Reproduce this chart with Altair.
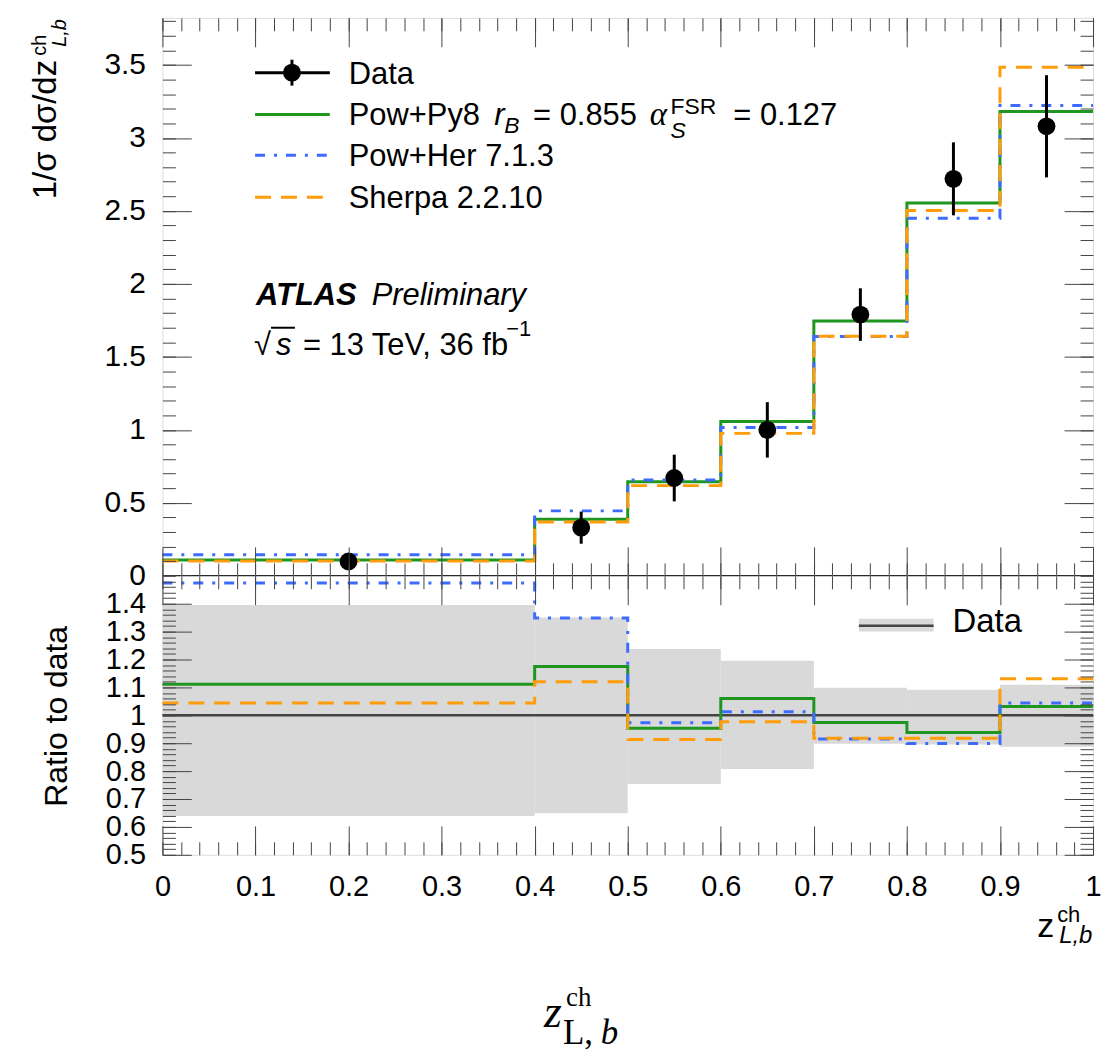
import altair as alt
import pandas as pd

# ---------------- values ----------------
edges = [0.0, 0.4, 0.5, 0.6, 0.7, 0.8, 0.9, 1.0]
data_vals = [0.098, 0.33, 0.67, 1.00, 1.79, 2.72, 3.08]
data_err = [0.037, 0.11, 0.16, 0.19, 0.18, 0.25, 0.35]
powpy8 = [0.109, 0.387, 0.644, 1.058, 1.746, 2.555, 3.181]
powher = [0.144, 0.445, 0.657, 1.016, 1.639, 2.450, 3.222]
sherpa = [0.102, 0.369, 0.618, 0.976, 1.641, 2.503, 3.484]
band_lo = [0.639, 0.649, 0.754, 0.808, 0.898, 0.895, 0.887]
band_hi = [1.395, 1.351, 1.238, 1.196, 1.099, 1.092, 1.110]
ratio_powpy8 = [1.111, 1.175, 0.954, 1.060, 0.974, 0.938, 1.032]
ratio_powher = [1.474, 1.349, 0.973, 1.013, 0.915, 0.899, 1.044]
ratio_sherpa = [1.044, 1.120, 0.913, 0.977, 0.918, 0.918, 1.131]

x_ticks = [0.0, 0.1, 0.2, 0.3, 0.4, 0.5, 0.6, 0.7, 0.8, 0.9, 1.0]
x_minor = [i / 50 for i in range(51)]
y_top_ticks = [0, 0.5, 1, 1.5, 2, 2.5, 3, 3.5]
y_top_minor = [i / 10 for i in range(39)]
y_ratio_ticks = [0.5, 0.6, 0.7, 0.8, 0.9, 1.0, 1.1, 1.2, 1.3, 1.4]
y_ratio_minor = [0.5 + i / 50 for i in range(51)]

GREEN, BLUE, ORANGE = "#1f961f", "#3d6bff", "#ff9c0a"
FONT = "Liberation Sans"
SERIF = "Liberation Serif"
TICK = "#444444"
W, H1, H2 = 934, 560, 280
OX, OY1, OY2 = 162, 15, 575

xscale = alt.Scale(domain=[0, 1], nice=False, zero=False)
yscale_top = alt.Scale(domain=[0, 3.823], nice=False, zero=False)
yscale_rat = alt.Scale(domain=[0.5, 1.5], nice=False, zero=False)


def ax(orient, values, size, labels=False, fs=30, pad=17):
    d = dict(orient=orient, values=values, tickSize=size, offset=-size, domain=False,
             grid=False, labels=labels, ticks=True, tickColor=TICK, tickWidth=1,
             title=None, zindex=1)
    if labels:
        d.update(labelFontSize=fs, labelFont=FONT, labelColor="black", labelPadding=pad,
                 labelExpr="format(datum.value, '~g')", labelOverlap=False,
                 labelFlush=False, labelBound=False)
    return alt.Axis(**d)


def carrier(yv, yscale, xaxis, yaxis):
    return alt.Chart(pd.DataFrame({"x": [0.5], "y": [yv]})).mark_point(opacity=0, size=1).encode(
        x=alt.X("x:Q", scale=xscale, axis=xaxis),
        y=alt.Y("y:Q", scale=yscale, axis=yaxis),
    )


def steps(vals):
    return pd.DataFrame({"x": edges, "y": list(vals) + [vals[-1]]})


def step_layer(vals, yscale, color, dash=None):
    kw = dict(interpolate="step-after", color=color, strokeWidth=3)
    if dash:
        kw["strokeDash"] = dash
    return alt.Chart(steps(vals)).mark_line(**kw).encode(
        x=alt.X("x:Q", scale=xscale, axis=None),
        y=alt.Y("y:Q", scale=yscale, axis=None),
    )


def txt(s, x, y, oy, size=31, font=FONT, **kw):
    align = kw.pop("align", "left")
    baseline = kw.pop("baseline", "alphabetic")
    return alt.Chart(pd.DataFrame({"t": [s]})).mark_text(
        fontSize=size, font=font, align=align, baseline=baseline, color="black", **kw
    ).encode(x=alt.value(x - OX), y=alt.value(y - oy), text="t:N")


def seg(x1, x2, y1, y2, oy, **kw):
    return alt.Chart(pd.DataFrame({"a": [0]})).mark_rule(**kw).encode(
        x=alt.value(x1 - OX), x2=alt.value(x2 - OX), y=alt.value(y1 - oy), y2=alt.value(y2 - oy)
    )


# ---------------- top panel ----------------
centers = [(edges[i] + edges[i + 1]) / 2 for i in range(len(data_vals))]
df_data = pd.DataFrame({
    "x": centers, "y": data_vals,
    "lo": [v - e for v, e in zip(data_vals, data_err)],
    "hi": [v + e for v, e in zip(data_vals, data_err)],
})
df_zero = pd.DataFrame({"x0": [edges[0]], "x1": [edges[-1]], "y": [0.0]})

top_layers = [
    carrier(0.1, yscale_top, ax("bottom", x_ticks, 29), ax("left", y_top_ticks, 29, labels=True, fs=30)),
    carrier(0.1, yscale_top, ax("bottom", x_minor, 13), ax("left", y_top_minor, 13)),
    carrier(0.1, yscale_top, ax("top", x_ticks, 29), ax("right", y_top_ticks, 29)),
    carrier(0.1, yscale_top, ax("top", x_minor, 13), ax("right", y_top_minor, 13)),
    # fixes the plot origin at (162, 15) of the page
    seg(0, 1, 0, 0, OY1, strokeOpacity=0, strokeWidth=0),
    alt.Chart(df_zero).mark_rule(color="black", strokeWidth=1.5).encode(
        x=alt.X("x0:Q", scale=xscale, axis=None), x2="x1:Q",
        y=alt.Y("y:Q", scale=yscale_top, axis=None)),
    step_layer(powpy8, yscale_top, GREEN),
    step_layer(powher, yscale_top, BLUE, [10, 9, 3, 9]),
    step_layer(sherpa, yscale_top, ORANGE, [16, 10]),
    alt.Chart(df_data).mark_rule(color="black", strokeWidth=3).encode(
        x=alt.X("x:Q", scale=xscale, axis=None),
        y=alt.Y("lo:Q", scale=yscale_top, axis=None), y2="hi:Q"),
    alt.Chart(df_data).mark_point(filled=True, color="black", size=320, opacity=1, shape="circle").encode(
        x=alt.X("x:Q", scale=xscale, axis=None),
        y=alt.Y("y:Q", scale=yscale_top, axis=None)),
    # legend
    seg(255, 330, 70, 70, OY1, color="black", strokeWidth=3),
    seg(292, 292, 57, 83, OY1, color="black", strokeWidth=3),
    alt.Chart(pd.DataFrame({"a": [0]})).mark_point(filled=True, color="black", size=320, opacity=1).encode(
        x=alt.value(292 - OX), y=alt.value(70 - OY1)),
    txt("Data", 349, 81, OY1),
    seg(255, 330, 112, 112, OY1, color=GREEN, strokeWidth=3),
    txt("Pow+Py8", 349, 123, OY1),
    txt("r", 495, 123, OY1, fontStyle="italic"),
    txt("B", 505, 131, OY1, size=23, fontStyle="italic"),
    txt("= 0.855", 534, 123, OY1),
    txt("α", 651, 123, OY1, size=33, font=SERIF, fontStyle="italic"),
    txt("FSR", 672, 111, OY1, size=23),
    txt("S", 672, 136, OY1, size=23, fontStyle="italic"),
    txt("= 0.127", 735, 123, OY1),
    seg(255, 330, 153, 153, OY1, color=BLUE, strokeWidth=3, strokeDash=[10, 9, 3, 9]),
    txt("Pow+Her 7.1.3", 349, 164, OY1),
    seg(255, 330, 195, 195, OY1, color=ORANGE, strokeWidth=3, strokeDash=[16, 10]),
    txt("Sherpa 2.2.10", 349, 206, OY1),
    # ATLAS label
    txt("ATLAS", 256, 303, OY1, fontStyle="italic", fontWeight="bold"),
    txt("Preliminary", 372, 303, OY1, fontStyle="italic"),
    txt("√", 254, 353, OY1),
    seg(271, 295, 326, 326, OY1, color="black", strokeWidth=2),
    txt("s", 276, 353, OY1, fontStyle="italic"),
    txt("= 13 TeV, 36 fb", 303, 353, OY1),
    txt("−1", 507, 334, OY1, size=22),
    # y title
    txt("1/σ dσ/dz", 55, 197, OY1, size=33, angle=270),
    txt("ch", 45, 53, OY1, size=20, angle=270),
    txt("L,b", 65, 44, OY1, size=20, angle=270, fontStyle="italic"),
]

top = alt.layer(*top_layers).properties(width=W, height=H1).resolve_axis(x="independent", y="independent")

# ---------------- ratio panel ----------------
df_band = pd.DataFrame({"x0": edges[:-1], "x1": edges[1:], "lo": band_lo, "hi": band_hi})
df_one = pd.DataFrame({"x0": [edges[0]], "x1": [edges[-1]], "y": [1.0]})

bot_layers = [
    carrier(1.0, yscale_rat, ax("bottom", x_ticks, 29, labels=True, fs=29, pad=18), ax("left", y_ratio_ticks, 29, labels=True, fs=29)),
    carrier(1.0, yscale_rat, ax("bottom", x_minor, 13), ax("left", y_ratio_minor, 13)),
    carrier(1.0, yscale_rat, ax("top", x_ticks, 29), ax("right", y_ratio_ticks, 29)),
    carrier(1.0, yscale_rat, ax("top", x_minor, 13), ax("right", y_ratio_minor, 13)),
    seg(0, 1, 575, 575, OY2, strokeOpacity=0, strokeWidth=0),
    alt.Chart(df_band).mark_rect(color="#d9d9d9").encode(
        x=alt.X("x0:Q", scale=xscale, axis=None), x2="x1:Q",
        y=alt.Y("lo:Q", scale=yscale_rat, axis=None), y2="hi:Q"),
    alt.Chart(df_one).mark_rule(color="#444444", strokeWidth=2.5).encode(
        x=alt.X("x0:Q", scale=xscale, axis=None), x2="x1:Q",
        y=alt.Y("y:Q", scale=yscale_rat, axis=None)),
    step_layer(ratio_powpy8, yscale_rat, GREEN),
    step_layer(ratio_powher, yscale_rat, BLUE, [10, 9, 3, 9]),
    step_layer(ratio_sherpa, yscale_rat, ORANGE, [16, 10]),
    # legend
    alt.Chart(pd.DataFrame({"a": [0]})).mark_rect(color="#d9d9d9").encode(
        x=alt.value(861 - OX), x2=alt.value(936 - OX), y=alt.value(618 - OY2), y2=alt.value(631 - OY2)),
    seg(861, 936, 625, 625, OY2, color="#444444", strokeWidth=2.5),
    txt("Data", 955, 631, OY2, size=33),
    # y title
    txt("Ratio to data", 66, 716, OY2, size=32, angle=270, align="center"),
    # axis title (sans)
    txt("z", 1040, 937, OY2, size=34),
    txt("ch", 1060, 922, OY2, size=22),
    txt("L,b", 1062, 944, OY2, size=24, fontStyle="italic"),
    # large serif label
    txt("z", 545, 1028, OY2, size=46, font=SERIF, fontStyle="italic"),
    txt("ch", 567, 1007, OY2, size=27, font=SERIF),
    txt("L,", 564, 1045, OY2, size=35, font=SERIF),
    txt("b", 602, 1045, OY2, size=35, font=SERIF, fontStyle="italic"),
]

bottom = alt.layer(*bot_layers).properties(width=W, height=H2).resolve_axis(x="independent", y="independent")

chart = alt.vconcat(top, bottom, spacing=0, bounds="flush",
                    padding={"left": 0, "top": 0, "right": 0, "bottom": 0}).configure_view(
    stroke="#333333", strokeWidth=1.2).configure(background="white")

chart.save("out.html", embed_options={"renderer": "svg", "actions": False})
